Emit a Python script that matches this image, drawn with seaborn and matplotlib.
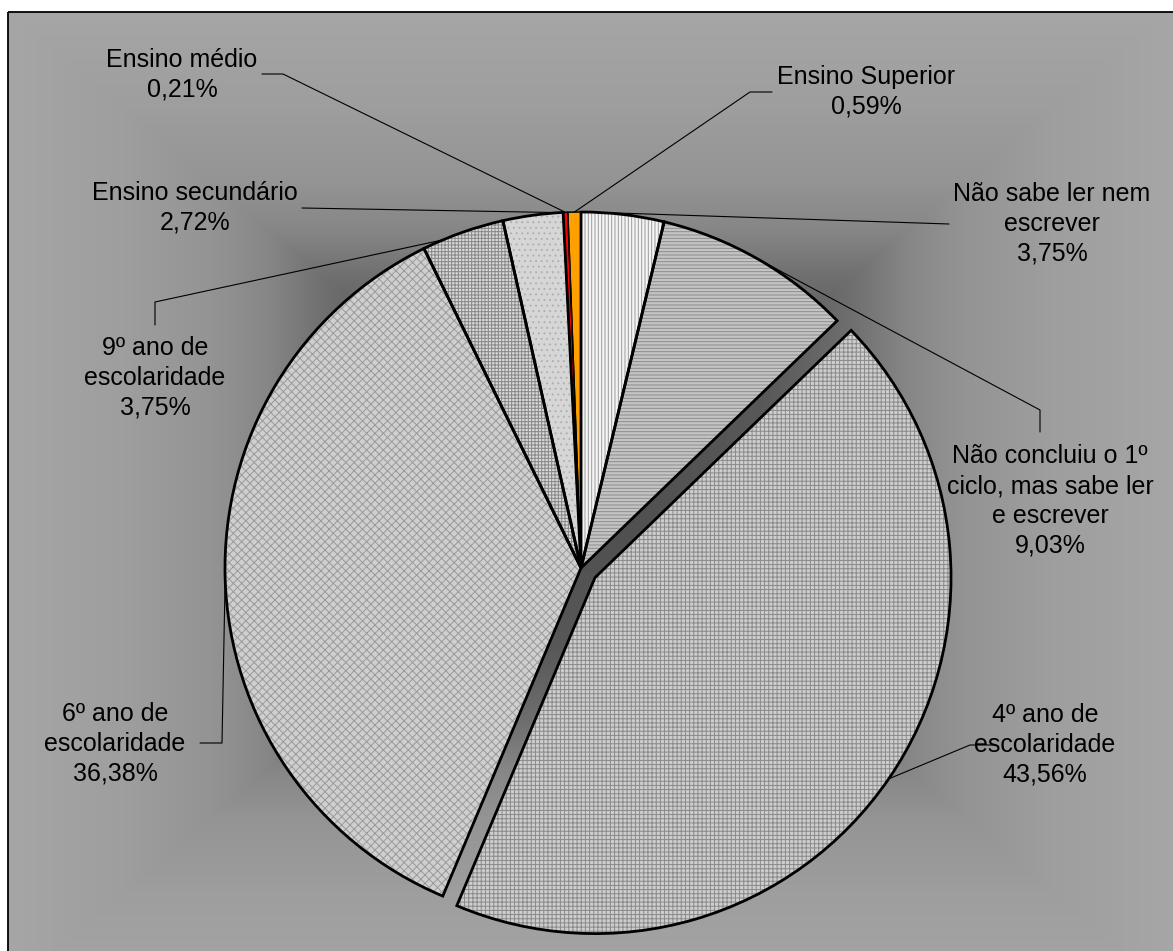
import numpy as np
import matplotlib
matplotlib.use("Agg")
import matplotlib.pyplot as plt
import seaborn as sns

# Education level distribution
categories = [
    "Não sabe ler nem\nescrever",
    "Não concluiu o 1º\nciclo, mas sabe ler\ne escrever",
    "4º ano de\nescolaridade",
    "6º ano de\nescolaridade",
    "9º ano de\nescolaridade",
    "Ensino secundário",
    "Ensino médio",
    "Ensino Superior",
]
values = [3.75, 9.03, 43.56, 36.38, 3.75, 2.72, 0.21, 0.59]

face_colors = ["#f4f4f4", "#c4c4c4", "#cdcdcd", "#cfcfcf", "#d8d8d8", "#d6d6d6", "#ff0000", "#ffa000"]
hatch_colors = ["#9c9c9c", "#8c8c8c", "#8a8a8a", "#9a9a9a", "#888888", "#b0b0b0", "#ff0000", "#ffa000"]
hatches = ["|||||", "-----", "++++", "xxxx", "+++++", "...", None, None]

sns.set_style("white")
plt.rcParams["font.family"] = ["Liberation Sans", "DejaVu Sans"]
plt.rcParams["hatch.linewidth"] = 0.7

W, H = 1173, 951
fig = plt.figure(figsize=(W / 100, H / 100), dpi=100)
fig.patch.set_facecolor("white")
ax = fig.add_axes([0, 0, 1, 1])


def px(x, y):
    """Pixel position (origin top-left) to data coordinates."""
    return x, H - y


# plot area: rectangular gradient, dark in the middle, lighter towards the border
x0, y0 = 8, 12
cx, cy = 581, 568
R = 356
gx, gy = np.meshgrid(np.arange(x0, W) + 0.5, np.arange(y0, H) + 0.5)
t = np.maximum(np.abs(gx - 588) / 580.0, np.abs(gy - 500) / 490.0)
gray = np.interp(t, [0.0, 0.3, 0.45, 0.55, 0.65, 0.8, 1.0],
                 [78, 88, 110, 134, 148, 158, 166]) / 255.0
ax.imshow(np.dstack([gray, gray, gray]), extent=(x0, W, 0, H - y0),
          origin="upper", interpolation="bilinear", zorder=0, aspect="auto")
ax.plot([x0, x0], [0, H - y0], color="black", lw=1.3, zorder=1, solid_capstyle="butt")
ax.plot([x0, W], [H - y0, H - y0], color="black", lw=1.3, zorder=1, solid_capstyle="butt")

center = px(cx, cy)
common = dict(startangle=90, counterclock=False, center=center, radius=R, frame=False)
fills, _ = ax.pie(values, wedgeprops=dict(linewidth=0), **common)
outlines, _ = ax.pie(values, wedgeprops=dict(fill=False, edgecolor="black", linewidth=2.0,
                                             joinstyle="miter"), **common)

# pull the largest wedge out a little
explode_idx = int(np.argmax(values))
explode_px = 17
for wlist in (fills, outlines):
    for i, w in enumerate(wlist):
        w.set_zorder(3 if wlist is fills else 4)
        if i == explode_idx:
            tm = np.deg2rad(0.5 * (w.theta1 + w.theta2))
            w.set_center((center[0] + explode_px * np.cos(tm), center[1] + explode_px * np.sin(tm)))

# thin slivers get a lighter outline so their colour stays visible
for w, v in zip(outlines, values):
    if v < 1:
        w.set_linewidth(1.1)

for w, fc, hc, hp in zip(fills, face_colors, hatch_colors, hatches):
    w.set_facecolor(fc)
    w.set_edgecolor(hc)
    if hp:
        w.set_hatch(hp)


def arc_point(w, f):
    th = np.deg2rad(w.theta2 - f * (w.theta2 - w.theta1))
    c = w.center
    return c[0] + w.r * np.cos(th), c[1] + w.r * np.sin(th)


# label centre, leader path (pixels) and attachment fraction along each wedge
label_pos = [(1052, 224), (1050, 501), (1045, 745), (115, 744), (155, 378),
             (195, 208), (182, 75), (866, 92)]
leader_paths = [
    [(949, 224)],
    [(1040, 432), (1040, 410)],
    [(995, 745), (970, 745)],
    [(200, 743), (222, 743)],
    [(155, 325), (155, 302)],
    [(302, 208)],
    [(262, 74), (283, 74)],
    [(772, 92), (750, 92)],
]
attach = [0.1, 0.5, 0.5, 0.5, 0.25, 0.95, 0.5, 0.5]

for w, name, v, lp, path, f in zip(fills, categories, values, label_pos, leader_paths, attach):
    pts = [px(*p) for p in path] + [arc_point(w, f)]
    xs, ys = zip(*pts)
    ax.plot(xs, ys, color="black", lw=0.8, zorder=5)
    pct = f"{v:.2f}".replace(".", ",") + "%"
    ax.text(*px(*lp), f"{name}\n{pct}", ha="center", va="center", fontsize=18,
            linespacing=1.3, color="black", zorder=6)

ax.set_xlim(0, W)
ax.set_ylim(0, H)
ax.set_aspect("auto")
ax.axis("off")

fig.savefig("out.png", dpi=100)
